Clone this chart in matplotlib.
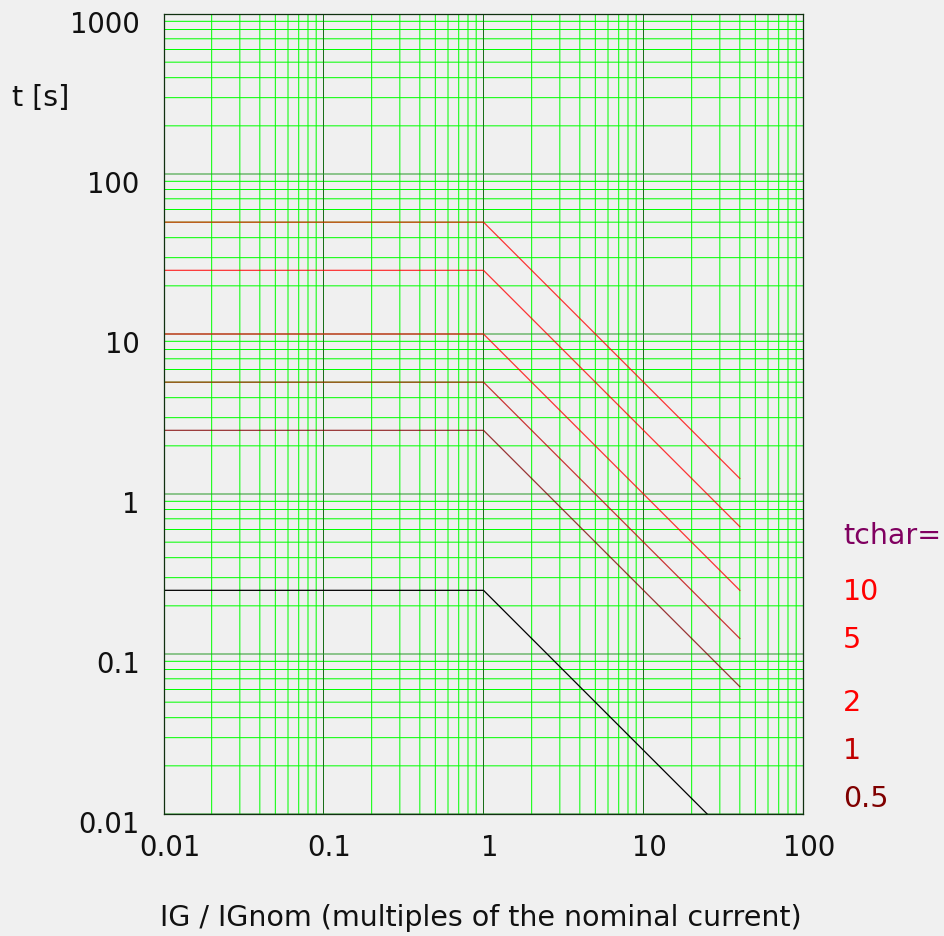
import matplotlib
matplotlib.use("Agg")
import matplotlib.pyplot as plt
import numpy as np
from matplotlib.transforms import ScaledTranslation, blended_transform_factory

# ---- data ----
plateau_t = [50, 25, 10, 5, 2.5, 0.25]          # t [s] for IG/IGnom <= 1
curve_colors = ['#ff0000', '#ff0000', '#ff0000', '#c00000', '#800000', '#000000']
x_knee = 1.0
x_end = 40.0
x_start = 0.01

x_ticks = [0.01, 0.1, 1, 10, 100]
x_ticklabels = ['0.01', '0.1', '1', '10', '100']
y_ticks = [0.01, 0.1, 1, 10, 100, 1000]
y_ticklabels = ['0.01', '0.1', '1', '10', '100', '1000']
minor_subs = [2, 3, 4, 5, 6, 7, 8, 9]

tchar_labels = ['10', '5', '2', '1', '0.5']
tchar_colors = ['#ff0000', '#ff0000', '#ff0000', '#c00000', '#800000']
tchar_y_px = [592, 640, 703, 751, 799]

W, H = 944, 937
DPI = 100
BG = '#f0f0f0'
FS_TICK = 19.8
FS = 20.5

fig = plt.figure(figsize=(W / DPI, H / DPI), dpi=DPI, facecolor=BG)
ax = fig.add_axes([163.5 / W, (H - 815) / H, 640 / W, 800 / H], facecolor=BG)
ax.set_xscale('log')
ax.set_yscale('log')
ax.set_xlim(0.01, 100)
ax.set_ylim(0.01, 1000)
ax.set_xticks([])
ax.set_yticks([])
ax.minorticks_off()

# grid lines (unsnapped, like the anti-aliased reference)
gkw = dict(linewidth=0.72, snap=False, zorder=1)
for d in x_ticks[:-1]:
    for s in minor_subs:
        ax.axvline(d * s, color='#00ff00', **gkw)
for d in y_ticks[:-1]:
    for s in minor_subs:
        ax.axhline(d * s, color='#00ff00', **gkw)
for v in x_ticks:
    ax.axvline(v, color='#1a6e1a', **gkw)
for v in y_ticks:
    ax.axhline(v, color='#2a9a2a', **gkw)

for s in ax.spines.values():
    s.set_color('#103010')
    s.set_linewidth(0.9)
    s.set_zorder(4)

# curves (coloured ones slightly transparent so they blend with the grid)
for T, c in zip(plateau_t, curve_colors):
    xs = [x_start, x_knee, x_end]
    ys = [T, T, T * x_knee / x_end]
    a = 1.0 if c == '#000000' else 0.78
    ax.plot(xs, ys, color=c, linewidth=0.9, alpha=a, zorder=2, clip_on=True)

# tick labels (placed manually with small pixel offsets)
px = fig.dpi_scale_trans
tx = blended_transform_factory(ax.transData, ax.transAxes)
for v, lab in zip(x_ticks, x_ticklabels):
    ax.text(v, 0, lab, transform=tx + ScaledTranslation(6 / DPI, -33 / DPI, px),
            ha='center', va='center', fontsize=FS_TICK, color='#111111', clip_on=False)
ty = blended_transform_factory(ax.transAxes, ax.transData)
for v, lab in zip(y_ticks, y_ticklabels):
    ax.text(0, v, lab, transform=ty + ScaledTranslation(-24 / DPI, -10 / DPI, px),
            ha='right', va='center', fontsize=FS_TICK, color='#111111', clip_on=False)

# axis titles
fig.text(12 / W, 1 - 98 / H, 't [s]', ha='left', va='center', fontsize=FS, color='#111111')
fig.text(481 / W, 1 - 918 / H, 'IG / IGnom (multiples of the nominal current)',
         ha='center', va='center', fontsize=FS, color='#111111')

# tchar legend
fig.text(843 / W, 1 - 536 / H, 'tchar=', ha='left', va='center', fontsize=FS, color='#800060')
for lab, c, ypx in zip(tchar_labels, tchar_colors, tchar_y_px):
    fig.text(843 / W, 1 - ypx / H, lab, ha='left', va='center', fontsize=FS, color=c)

fig.savefig('out.png', dpi=DPI, facecolor=BG)
